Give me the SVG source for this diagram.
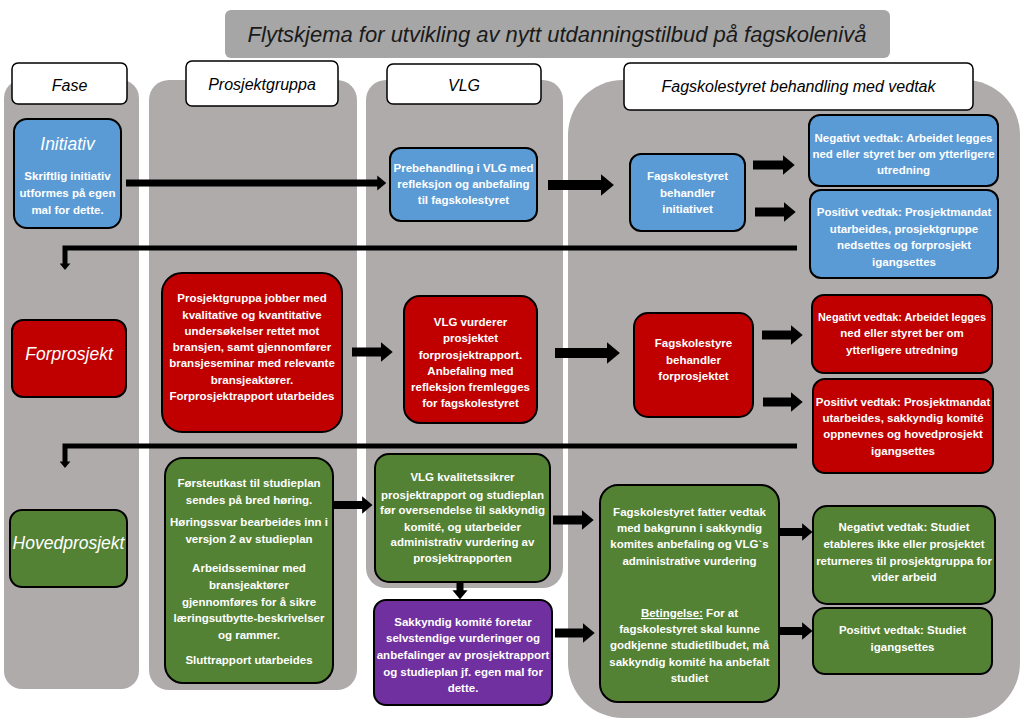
<svg xmlns="http://www.w3.org/2000/svg" width="1024" height="724" viewBox="0 0 1024 724">
<defs>
<style>
.lane{fill:#AFABAB}
.hdr{fill:#fff;stroke:#000;stroke-width:1.5}
.ht{font-family:"Liberation Sans",Arial,sans-serif;font-style:italic;font-size:16px;fill:#000;text-anchor:middle}
.box{stroke:#000;stroke-width:2}
.blue{fill:#5B9BD5}
.red{fill:#C00000}
.green{fill:#548235}
.purple{fill:#7030A0}
.t{font-family:"Liberation Sans",Arial,sans-serif;font-weight:bold;font-size:11.5px;fill:#fff;text-anchor:middle}
.ph{font-family:"Liberation Sans",Arial,sans-serif;font-style:italic;font-size:17.5px;fill:#fff;text-anchor:middle}
.arr{stroke:#000;fill:none;marker-end:url(#ah)}
</style>
<marker id="ah" viewBox="0 0 6 10" refX="0.5" refY="5" markerWidth="1.3" markerHeight="2.2" orient="auto" markerUnits="strokeWidth">
<path d="M0,0 L6,5 L0,10 Z" fill="#000"/>
</marker>
</defs>
<rect width="1024" height="724" fill="#fff"/>

<g id="lanes">
<rect class="lane" x="4" y="80" width="135" height="609" rx="18"/>
<rect class="lane" x="149" y="80" width="208" height="610" rx="20"/>
<rect class="lane" x="366" y="80" width="197" height="508" rx="20"/>
<rect class="lane" x="568" y="80" width="452" height="638" rx="55"/>
</g>

<g id="title">
<rect x="225" y="10" width="665" height="48" rx="6" fill="#A6A6A6"/>
<text x="557" y="42" font-family="Liberation Sans, Arial, sans-serif" font-style="italic" font-size="22px" fill="#1a1a1a" text-anchor="middle">Flytskjema for utvikling av nytt utdanningstilbud på fagskolenivå</text>
</g>

<g id="hdr-fase"><rect class="hdr" x="12" y="63" width="115" height="41" rx="6"/><text class="ht" x="69.5" y="91">Fase</text></g>
<g id="hdr-prosjektgruppa"><rect class="hdr" x="186" y="61" width="152" height="45" rx="6"/><text class="ht" x="262" y="90">Prosjektgruppa</text></g>
<g id="hdr-vlg"><rect class="hdr" x="387" y="64" width="154" height="40" rx="6"/><text class="ht" x="464" y="91">VLG</text></g>
<g id="hdr-fagskolestyret"><rect class="hdr" x="624" y="63" width="349" height="47" rx="6"/><text class="ht" x="798.5" y="92">Fagskolestyret behandling med vedtak</text></g>

<g id="connectors">
<line class="arr" stroke-width="7" x1="126" y1="183" x2="378" y2="183"/>
<line class="arr" stroke-width="10" x1="548" y1="185" x2="602" y2="185"/>
<line class="arr" stroke-width="9" x1="753" y1="165" x2="784" y2="165"/>
<line class="arr" stroke-width="9" x1="755" y1="212" x2="785" y2="212"/>
<polyline class="arr" stroke-width="5" points="797,248 65,248 65,264"/>
<line class="arr" stroke-width="9" x1="352" y1="352" x2="382" y2="352"/>
<line class="arr" stroke-width="10" x1="555" y1="353" x2="608" y2="353"/>
<line class="arr" stroke-width="9" x1="762" y1="335" x2="792" y2="335"/>
<line class="arr" stroke-width="9" x1="763" y1="402" x2="792" y2="402"/>
<polyline class="arr" stroke-width="5" points="797,446 65,446 65,462"/>
<line class="arr" stroke-width="8" x1="333" y1="505" x2="363" y2="505"/>
<line class="arr" stroke-width="7" x1="460" y1="582" x2="460" y2="591"/>
<line class="arr" stroke-width="9" x1="553" y1="520" x2="583" y2="520"/>
<line class="arr" stroke-width="9" x1="555" y1="633" x2="584" y2="633"/>
<line class="arr" stroke-width="8" x1="780" y1="532" x2="803" y2="532"/>
<line class="arr" stroke-width="8" x1="779" y1="631" x2="803" y2="631"/>
</g>

<g id="initiativ">
<rect class="box blue" x="14" y="119" width="107" height="109" rx="13"/>
<text class="ph" x="67.5" y="150" font-size="21px">Initiativ</text>
<text class="t" x="67.5"><tspan x="67.5" y="180">Skriftlig initiativ</tspan><tspan x="67.5" y="197">utformes på egen</tspan><tspan x="67.5" y="214">mal for dette.</tspan></text>
</g>

<g id="prebehandling">
<rect class="box blue" x="390" y="148" width="147" height="73" rx="11"/>
<text class="t"><tspan x="463.5" y="172">Prebehandling i VLG med</tspan><tspan x="463.5" y="188">refleksjon og anbefaling</tspan><tspan x="463.5" y="204">til fagskolestyret</tspan></text>
</g>

<g id="fs-initiativ">
<rect class="box blue" x="630" y="154" width="115" height="77" rx="11"/>
<text class="t"><tspan x="687.5" y="180">Fagskolestyret</tspan><tspan x="687.5" y="197">behandler</tspan><tspan x="687.5" y="213">initiativet</tspan></text>
</g>

<g id="neg-initiativ">
<rect class="box blue" x="809" y="115" width="189" height="71" rx="11"/>
<text class="t"><tspan x="903.5" y="142">Negativt vedtak: Arbeidet legges</tspan><tspan x="903.5" y="158">ned eller styret ber om ytterligere</tspan><tspan x="903.5" y="174">utredning</tspan></text>
</g>

<g id="pos-initiativ">
<rect class="box blue" x="810" y="190" width="188" height="88" rx="11"/>
<text class="t"><tspan x="904" y="216">Positivt vedtak: Prosjektmandat</tspan><tspan x="904" y="233">utarbeides, prosjektgruppe</tspan><tspan x="904" y="249">nedsettes og forprosjekt</tspan><tspan x="904" y="266">igangsettes</tspan></text>
</g>

<g id="forprosjekt">
<rect class="box red" x="12" y="320" width="114" height="77" rx="11"/>
<text class="ph" x="69" y="360">Forprosjekt</text>
</g>

<g id="pg-forprosjekt">
<rect class="box red" x="162" y="273" width="180" height="159" rx="20"/>
<text class="t"><tspan x="252" y="302">Prosjektgruppa jobber med</tspan><tspan x="252" y="318.5">kvalitative og kvantitative</tspan><tspan x="252" y="335">undersøkelser rettet mot</tspan><tspan x="252" y="351">bransjen, samt gjennomfører</tspan><tspan x="252" y="367">bransjeseminar med relevante</tspan><tspan x="252" y="384">bransjeaktører.</tspan><tspan x="252" y="400">Forprosjektrapport utarbeides</tspan></text>
</g>

<g id="vlg-forprosjekt">
<rect class="box red" x="404" y="296" width="133" height="127" rx="16"/>
<text class="t"><tspan x="470.5" y="326">VLG vurderer</tspan><tspan x="470.5" y="342">prosjektet</tspan><tspan x="470.5" y="359">forprosjektrapport.</tspan><tspan x="470.5" y="375">Anbefaling med</tspan><tspan x="470.5" y="391">refleksjon fremlegges</tspan><tspan x="470.5" y="407">for fagskolestyret</tspan></text>
</g>

<g id="fs-forprosjekt">
<rect class="box red" x="634" y="313" width="119" height="104" rx="14"/>
<text class="t"><tspan x="693.5" y="347">Fagskolestyre</tspan><tspan x="693.5" y="364">behandler</tspan><tspan x="693.5" y="380">forprosjektet</tspan></text>
</g>

<g id="neg-forprosjekt">
<rect class="box red" x="812" y="295" width="180" height="78" rx="12"/>
<text class="t"><tspan x="902" y="321" textLength="168" lengthAdjust="spacingAndGlyphs">Negativt vedtak: Arbeidet legges</tspan><tspan x="902" y="337">ned eller styret ber om</tspan><tspan x="902" y="354">ytterligere utredning</tspan></text>
</g>

<g id="pos-forprosjekt">
<rect class="box red" x="813" y="379" width="180" height="94" rx="12"/>
<text class="t"><tspan x="903" y="406">Positivt vedtak: Prosjektmandat</tspan><tspan x="903" y="422">utarbeides, sakkyndig komité</tspan><tspan x="903" y="438">oppnevnes og hovedprosjekt</tspan><tspan x="903" y="455">igangsettes</tspan></text>
</g>

<g id="hovedprosjekt">
<rect class="box green" x="10" y="510" width="117" height="77" rx="12"/>
<text class="ph" x="68.5" y="549" font-size="15.5px">Hovedprosjekt</text>
</g>

<g id="pg-hovedprosjekt">
<rect class="box green" x="165" y="458" width="168" height="225" rx="18"/>
<text class="t"><tspan x="249" y="487">Førsteutkast til studieplan</tspan><tspan x="249" y="504">sendes på bred høring.</tspan><tspan x="249" y="526">Høringssvar bearbeides inn i</tspan><tspan x="249" y="543">versjon 2 av studieplan</tspan><tspan x="249" y="572">Arbeidsseminar med</tspan><tspan x="249" y="589">bransjeaktører</tspan><tspan x="249" y="606">gjennomføres for å sikre</tspan><tspan x="249" y="622">læringsutbytte-beskrivelser</tspan><tspan x="249" y="639">og rammer.</tspan><tspan x="249" y="664">Sluttrapport utarbeides</tspan></text>
</g>

<g id="vlg-hovedprosjekt">
<rect class="box green" x="375" y="454" width="175" height="128" rx="14"/>
<text class="t"><tspan x="462.5" y="481">VLG kvalitetssikrer</tspan><tspan x="462.5" y="499">prosjektrapport og studieplan</tspan><tspan x="462.5" y="514">før oversendelse til sakkyndig</tspan><tspan x="462.5" y="531">komité, og utarbeider</tspan><tspan x="462.5" y="546">administrativ vurdering av</tspan><tspan x="462.5" y="562">prosjektrapporten</tspan></text>
</g>

<g id="sakkyndig">
<rect class="box purple" x="374" y="600" width="178" height="105" rx="12"/>
<text class="t"><tspan x="463" y="626">Sakkyndig komité foretar</tspan><tspan x="463" y="642">selvstendige vurderinger og</tspan><tspan x="463" y="659">anbefalinger av prosjektrapport</tspan><tspan x="463" y="676">og studieplan jf. egen mal for</tspan><tspan x="463" y="692">dette.</tspan></text>
</g>

<g id="fs-hovedprosjekt">
<rect class="box green" x="600" y="485" width="179" height="217" rx="18"/>
<text class="t"><tspan x="689.5" y="516">Fagskolestyret fatter vedtak</tspan><tspan x="689.5" y="532">med bakgrunn i sakkyndig</tspan><tspan x="689.5" y="548">komites anbefaling og VLG`s</tspan><tspan x="689.5" y="565">administrative vurdering</tspan><tspan x="689.5" y="617"><tspan text-decoration="underline">Betingelse:</tspan> For at</tspan><tspan x="689.5" y="633">fagskolestyret skal kunne</tspan><tspan x="689.5" y="649">godkjenne studietilbudet, må</tspan><tspan x="689.5" y="666">sakkyndig komité ha anbefalt</tspan><tspan x="689.5" y="682">studiet</tspan></text>
</g>

<g id="neg-hovedprosjekt">
<rect class="box green" x="813" y="506" width="182" height="98" rx="14"/>
<text class="t"><tspan x="904" y="531">Negativt vedtak: Studiet</tspan><tspan x="904" y="548">etableres ikke eller prosjektet</tspan><tspan x="904" y="565">returneres til prosjektgruppa for</tspan><tspan x="904" y="581">vider arbeid</tspan></text>
</g>

<g id="pos-hovedprosjekt">
<rect class="box green" x="813" y="608" width="179" height="66" rx="12"/>
<text class="t"><tspan x="902.5" y="634">Positivt vedtak: Studiet</tspan><tspan x="902.5" y="651">igangsettes</tspan></text>
</g>
</svg>
